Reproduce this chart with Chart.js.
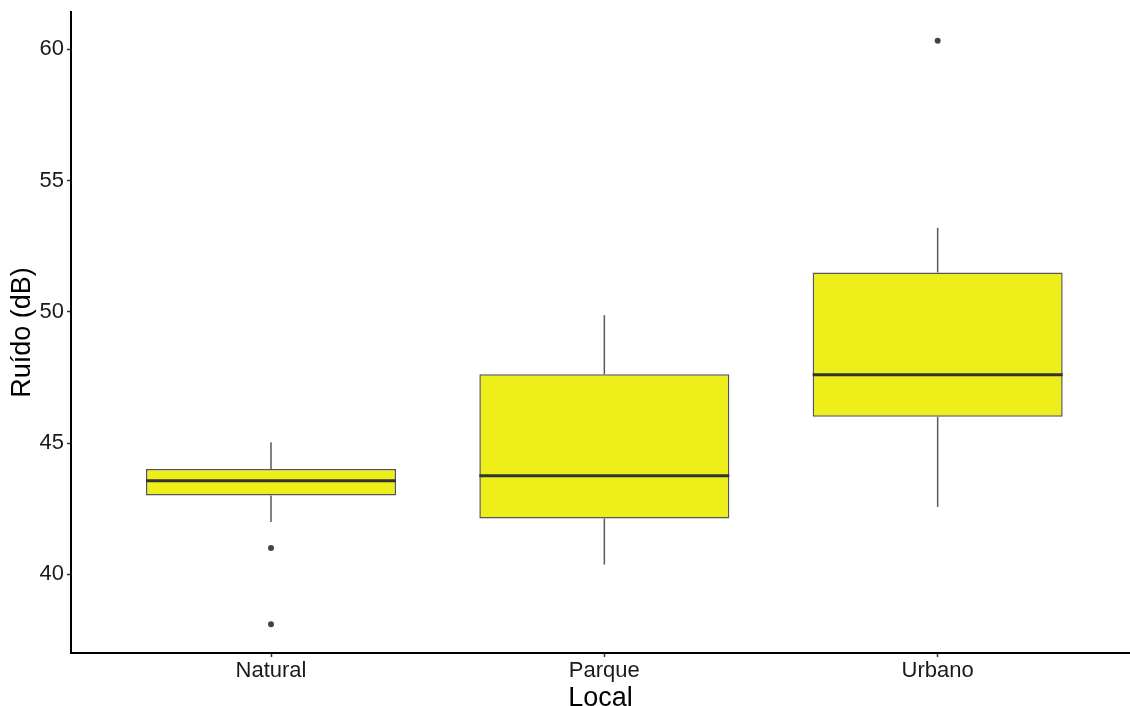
<!DOCTYPE html>
<html>
<head>
<meta charset="utf-8">
<script src="https://cdn.jsdelivr.net/npm/chart.js@4/dist/chart.umd.min.js"></script>
<style>
  html, body { margin: 0; padding: 0; background: #ffffff; }
  #wrap { width: 1130px; height: 706px; position: relative; }
</style>
</head>
<body>
<div id="wrap"><canvas id="chart"></canvas></div>
<script>
// Noise level (dB) by site type: box-plot summary statistics
const categories  = ['Natural', 'Parque', 'Urbano'];
const q1          = [43.00, 42.12, 46.00];
const median      = [43.56, 43.75, 47.60];
const q3          = [44.01, 47.62, 51.50];
const whiskerLow  = [41.99, 40.37, 42.56];
const whiskerHigh = [45.03, 49.87, 53.20];
const outliers    = [[41.00, 38.10], [], [60.32]];
const yTicks      = [40, 45, 50, 55, 60];

const FONT = '"Liberation Sans", Arial, Helvetica, sans-serif';

// Boxes are floating bars from Q1 to Q3
const boxData = categories.map((c, i) => ({ x: i + 1, y: [q1[i], q3[i]] }));
// Outlying observations
const outlierData = [];
outliers.forEach((vals, i) => vals.forEach(v => outlierData.push({ x: i + 1, y: v })));

// Whiskers and median lines, placed from the bar elements and the y scale
const boxExtras = {
  id: 'boxExtras',
  afterDatasetsDraw(chart) {
    const meta = chart.getDatasetMeta(0);
    const yScale = chart.scales.y;
    const ctx = chart.ctx;
    ctx.save();
    meta.data.forEach((bar, i) => {
      const { x, width } = bar.getProps(['x', 'width'], true);
      const yQ1 = yScale.getPixelForValue(q1[i]);
      const yQ3 = yScale.getPixelForValue(q3[i]);
      const yLo = yScale.getPixelForValue(whiskerLow[i]);
      const yHi = yScale.getPixelForValue(whiskerHigh[i]);
      const yMed = yScale.getPixelForValue(median[i]);
      ctx.strokeStyle = '#5a5a5a';
      ctx.lineWidth = 1.5;
      ctx.beginPath();
      ctx.moveTo(x, yQ3); ctx.lineTo(x, yHi);
      ctx.moveTo(x, yQ1); ctx.lineTo(x, yLo);
      ctx.stroke();
      ctx.strokeStyle = '#333333';
      ctx.lineWidth = 3;
      ctx.beginPath();
      ctx.moveTo(x - width / 2, yMed); ctx.lineTo(x + width / 2, yMed);
      ctx.stroke();
    });
    ctx.restore();
  }
};

// Let the layout padding alone decide the plot edges
function noScalePadding(scale) {
  scale.paddingLeft = 0;
  scale.paddingRight = 0;
  scale.paddingTop = 0;
  scale.paddingBottom = 0;
}

new Chart(document.getElementById('chart'), {
  type: 'bar',
  data: {
    datasets: [
      {
        type: 'bar',
        data: boxData,
        backgroundColor: '#EEEF1A',
        borderColor: '#555555',
        borderWidth: 1.5,
        borderSkipped: false,
        barPercentage: 0.75,
        categoryPercentage: 1.0
      },
      {
        type: 'scatter',
        data: outlierData,
        backgroundColor: '#444444',
        borderColor: '#444444',
        pointRadius: 3,
        pointBorderWidth: 0
      }
    ]
  },
  options: {
    responsive: true,
    maintainAspectRatio: false,
    devicePixelRatio: 1,
    animation: false,
    layout: { autoPadding: false, padding: { top: 12, right: 0, bottom: 0, left: 0 } },
    plugins: { legend: { display: false }, tooltip: { enabled: false } },
    scales: {
      x: {
        type: 'linear',
        offset: false,
        min: 0.4,
        max: 3.577,
        afterBuildTicks(scale) { scale.ticks = categories.map((c, i) => ({ value: i + 1 })); },
        afterFit(scale) { scale.height = 53; noScalePadding(scale); },
        ticks: {
          callback: v => categories[v - 1],
          font: { family: FONT, size: 22 },
          color: '#1a1a1a',
          padding: 1,
          maxRotation: 0,
          autoSkip: false
        },
        grid: { offset: false, drawOnChartArea: false, drawTicks: true, tickLength: 4, color: '#333333', tickWidth: 1.5 },
        border: { display: true, color: '#000000', width: 2 },
        title: {
          display: true,
          text: 'Local',
          font: { family: FONT, size: 27, lineHeight: 0.52 },
          color: '#000000',
          padding: { top: 0, bottom: 0 }
        }
      },
      y: {
        type: 'linear',
        position: 'left',
        min: 37.0,
        max: 61.42,
        afterBuildTicks(scale) { scale.ticks = yTicks.map(v => ({ value: v })); },
        afterFit(scale) { scale.width = 71; noScalePadding(scale); },
        ticks: {
          font: { family: FONT, size: 22 },
          color: '#1a1a1a',
          padding: 3
        },
        grid: { drawOnChartArea: false, drawTicks: true, tickLength: 4, color: '#333333', tickWidth: 1.5 },
        border: { display: true, color: '#000000', width: 2 },
        title: {
          display: true,
          text: 'Ruído (dB)',
          font: { family: FONT, size: 27 },
          color: '#000000',
          padding: { top: 6, bottom: 0 }
        }
      }
    }
  },
  plugins: [boxExtras]
});
</script>
</body>
</html>
